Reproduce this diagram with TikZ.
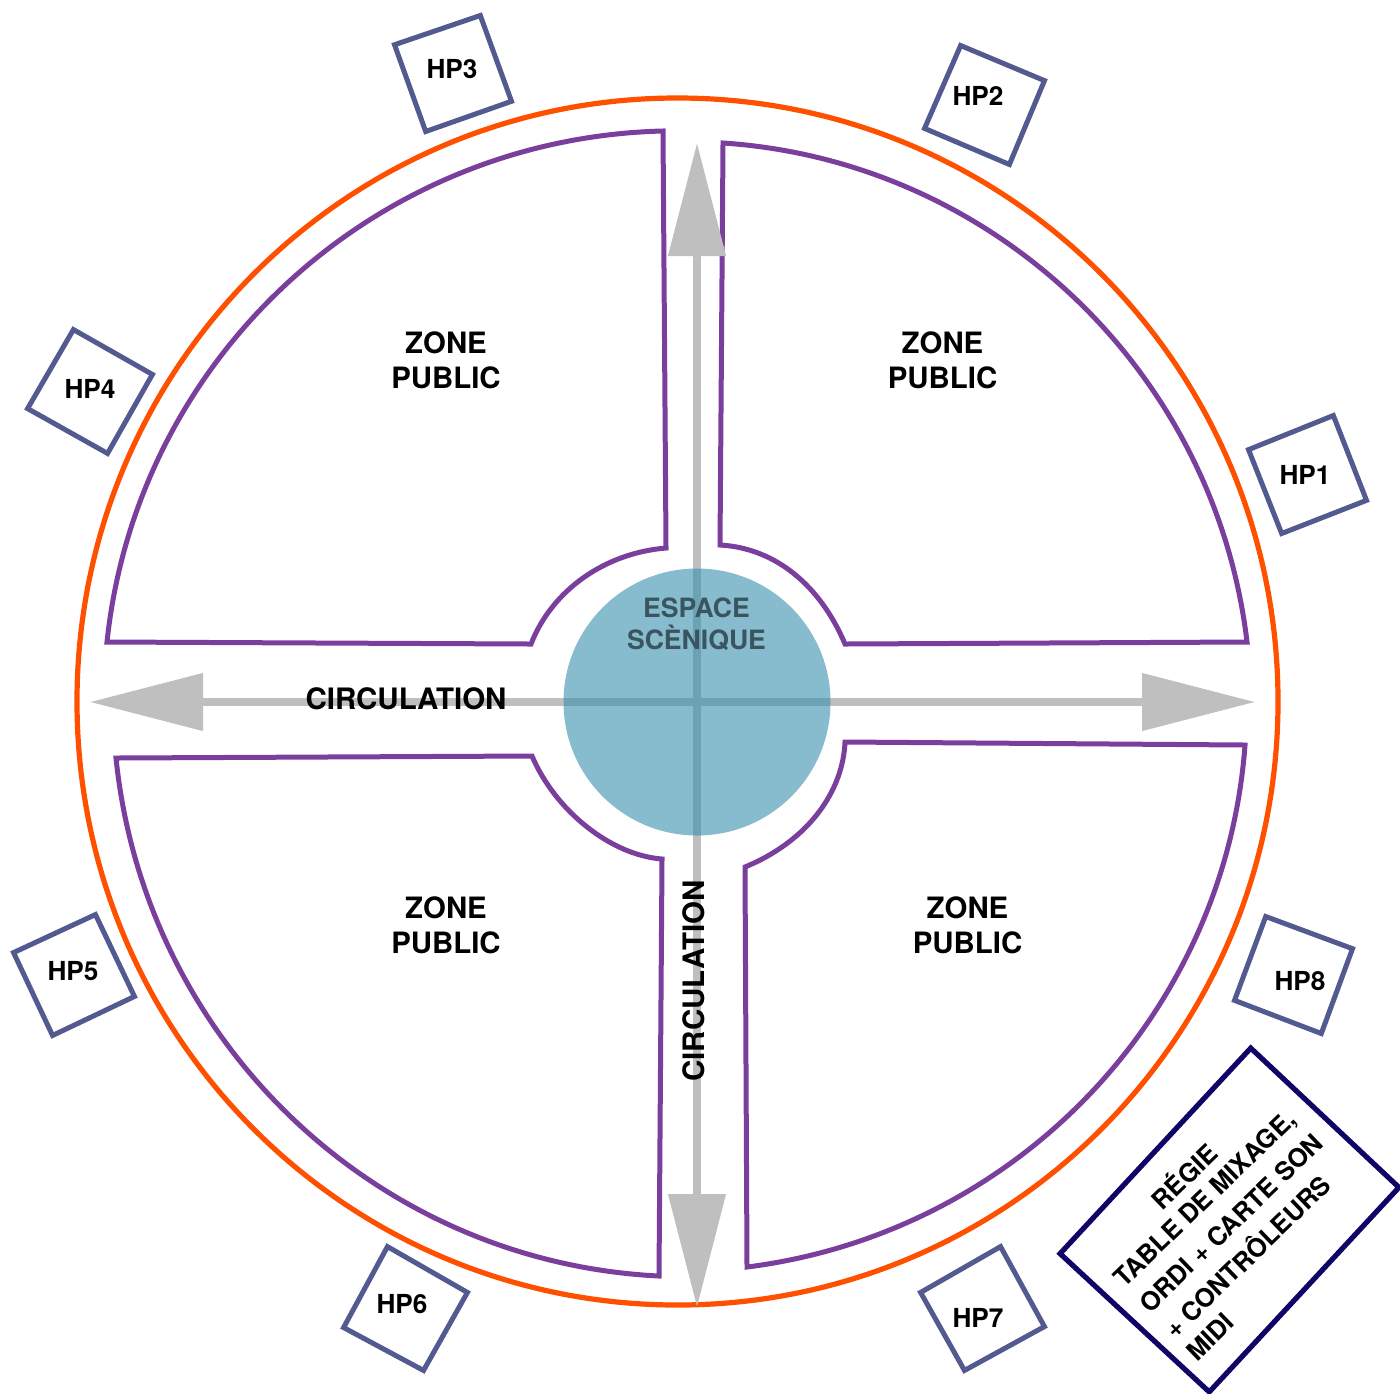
\documentclass[tikz,border=0pt]{standalone}
\usepackage{fontspec}
\setmainfont{TeX Gyre Heros}
\usetikzlibrary{arrows.meta}
\definecolor{ringc}{HTML}{FF5000}
\definecolor{zonec}{HTML}{7A3F9D}
\definecolor{hpc}{HTML}{525A8F}
\definecolor{regc}{HTML}{0F0566}
\definecolor{axisc}{HTML}{BFBFBF}
\definecolor{stagec}{HTML}{378EAD}
\definecolor{stagetext}{HTML}{3A5560}
\tikzset{
  x=0.5pt,y=-0.5pt,
  ring/.style={draw=ringc,line width=2.6pt},
  zone/.style={draw=zonec,line width=2.5pt,miter limit=10},
  hpbox/.style={draw=hpc,line width=2.5pt,fill=white,line join=miter},
  regbox/.style={draw=regc,line width=2.6pt,fill=white,line join=miter},
  axis/.style={draw=axisc,fill=axisc,line width=3.8pt,
    {Triangle[length=56.5pt,width=28pt]}-{Triangle[length=56.5pt,width=28pt]}},
  hplabel/.style={inner sep=0pt,font=\fontsize{13.1}{15}\selectfont\bfseries},
  zonelabel/.style={inner sep=0pt,align=center,font=\fontsize{14.7}{17.5}\selectfont\bfseries},
  stagelabel/.style={inner sep=0pt,align=center,text=stagetext,font=\fontsize{13.3}{16}\selectfont\bfseries},
  circlabel/.style={inner sep=0pt,font=\fontsize{14.75}{17}\selectfont\bfseries},
  reglabel/.style={inner sep=0pt,rotate=44,font=\fontsize{12.8}{15}\selectfont\bfseries},
}
\begin{document}
\begin{tikzpicture}
\useasboundingbox (0,0) rectangle (1400,1393);
\clip (0,0) rectangle (1400,1393);
% outer ring
\draw[ring] (677.5,701.5) ellipse [x radius=600.5,y radius=603.5];
% public zones
\draw[zone] (663,131) .. controls (376,138) and (137,356) .. (107,642) -- (531,644)
  .. controls (552,590) and (605,553) .. (666,548) -- cycle;
\draw[zone] (723,143) .. controls (994,161) and (1215,372) .. (1247,642) -- (845,644)
  .. controls (820,585) and (775,548) .. (720,545) -- cycle;
\draw[zone] (116,758) -- (532,756) .. controls (555,810) and (610,855) .. (662,859)
  -- (659,1276) .. controls (375,1262) and (145,1041) .. cycle;
\draw[zone] (845,742) -- (1245,745) .. controls (1225,1015) and (1016,1233) .. (747,1267)
  -- (745,867) .. controls (810,840) and (843,790) .. cycle;
% loudspeakers
\draw[hpbox,scale around={0.975:(453,73.5)}] (393,44) -- (481,14) -- (513,102) -- (425,133) -- cycle;
\draw[hpbox,scale around={0.975:(984.5,105)}] (960,44) -- (1046,80) -- (1010,166) -- (923,129) -- cycle;
\draw[hpbox,scale around={0.975:(1307.5,474.5)}] (1247,449) -- (1334,414) -- (1368,501) -- (1281,535) -- cycle;
\draw[hpbox,scale around={0.975:(90,391.5)}] (73,328) -- (154,374) -- (108,455) -- (26,409) -- cycle;
\draw[hpbox,scale around={0.975:(74,975)}] (12,952) -- (96,913) -- (136,997) -- (52,1037) -- cycle;
\draw[hpbox,scale around={0.975:(1293.5,975)}] (1265,915) -- (1354,948) -- (1322,1035) -- (1233,1001) -- cycle;
\draw[hpbox,scale around={0.975:(982.5,1309)}] (919,1292) -- (1001,1245) -- (1046,1327) -- (964,1372) -- cycle;
\draw[hpbox,scale around={0.975:(405.5,1309)}] (387,1245) -- (469,1292) -- (424,1372) -- (342,1328) -- cycle;
\node[hplabel] (hp1) at (1305,475) {HP1};
\node[hplabel] (hp2) at (978,96) {HP2};
\node[hplabel] (hp3) at (452,69) {HP3};
\node[hplabel] (hp4) at (90,389) {HP4};
\node[hplabel] (hp5) at (73,971) {HP5};
\node[hplabel] (hp6) at (402,1304) {HP6};
\node[hplabel] (hp7) at (978,1318) {HP7};
\node[hplabel] (hp8) at (1300,981) {HP8};
% régie
\draw[regbox,scale around={0.988:(1230,1220)}] (1251,1046) -- (1401,1187) -- (1209,1394) -- (1058,1254) -- cycle;
\node[reglabel] (r1) at (1183,1175) {RÉGIE};
\node[reglabel] (r2) at (1206,1200) {TABLE DE MIXAGE,};
\node[reglabel] (r3) at (1231,1223) {ORDI + CARTE SON};
\node[reglabel] (r4) at (1246,1255) {+ CONTRÔLEURS};
\node[reglabel] (r5) at (1210,1337) {MIDI};
% circulation axes
\coordinate (west) at (90,702);
\coordinate (east) at (1255,702);
\coordinate (north) at (697,143);
\coordinate (south) at (697,1307);
\draw[axis] (west) -- (east);
\draw[axis] (north) -- (south);
% labels
\node[zonelabel] (z1) at (446,360) {ZONE\\PUBLIC};
\node[zonelabel] (z2) at (942.5,360) {ZONE\\PUBLIC};
\node[zonelabel] (z3) at (446,925) {ZONE\\PUBLIC};
\node[zonelabel] (z4) at (967.5,925) {ZONE\\PUBLIC};
% stage disc, above the axes
\fill[stagec,fill opacity=0.6] (697,702) circle [radius=133.5];
\node[stagelabel] (stage) at (696.5,624) {ESPACE\\SCÈNIQUE};
\node[circlabel] (c1) at (406,699) {CIRCULATION};
\node[circlabel,rotate=90] (c2) at (694,981) {CIRCULATION};
\end{tikzpicture}
\end{document}
